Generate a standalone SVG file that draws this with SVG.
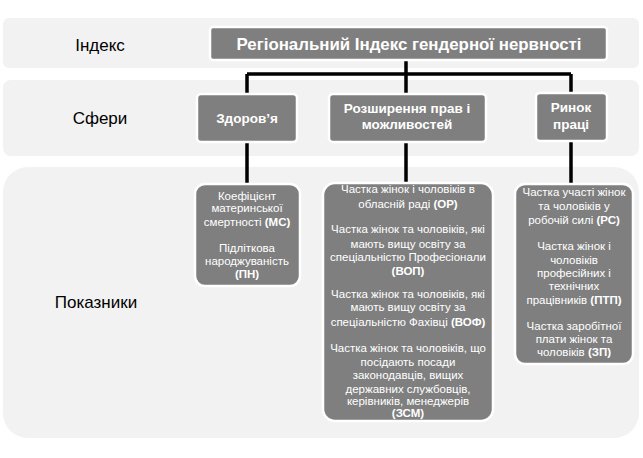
<svg xmlns="http://www.w3.org/2000/svg" width="643" height="458" viewBox="0 0 643 458">
<style>
.band{fill:#f2f2f2}
.lbl{font-family:"Liberation Sans",Arial,sans-serif;font-size:17px;fill:#000;text-anchor:middle}
.box{fill:#7f7f7f;stroke:#fff;stroke-width:2.5}
.ttl{font-family:"Liberation Sans",Arial,sans-serif;font-weight:bold;font-size:16.5px;fill:#fff;text-anchor:middle}
.sph{font-family:"Liberation Sans",Arial,sans-serif;font-weight:bold;font-size:13.5px;fill:#fff;text-anchor:middle}
.ind{font-family:"Liberation Sans",Arial,sans-serif;font-size:11.5px;fill:#fff;text-anchor:middle}
.b{font-weight:bold}
.con{fill:none;stroke:#000;stroke-width:3.5}
</style>
<rect width="643" height="458" fill="#fff"/>
<g id="bands">
<rect class="band" x="3" y="18" width="636" height="50" rx="6"/>
<rect class="band" x="3" y="80" width="636" height="76" rx="8"/>
<rect class="band" x="3" y="167" width="636" height="271" rx="25"/>
<text class="lbl" x="100" y="51">Індекс</text>
<text class="lbl" x="100" y="124">Сфери</text>
<text class="lbl" x="96" y="308">Показники</text>
</g>
<g id="connectors">
<path class="con" d="M406 60 V74 M247 74 H571 M247 74 V184 M406 74 V184 M571 74 V184"/>
</g>
<g id="index">
<rect class="box" x="210" y="27" width="397" height="33" rx="3"/>
<text class="ttl" x="409" y="49.5" textLength="345" lengthAdjust="spacingAndGlyphs">Регіональний Індекс гендерної нервності</text>
</g>
<g id="sphere-health">
<rect class="box" x="197" y="94" width="100" height="48" rx="4"/>
<text class="sph" x="247" y="123">Здоров’я</text>
</g>
<g id="sphere-rights">
<rect class="box" x="329" y="94" width="157" height="48" rx="4"/>
<text class="sph" x="407" y="113">Розширення прав і</text>
<text class="sph" x="407" y="129">можливостей</text>
</g>
<g id="sphere-labour">
<rect class="box" x="536" y="93" width="71" height="48" rx="4"/>
<text class="sph" x="571" y="112">Ринок</text>
<text class="sph" x="571" y="129">праці</text>
</g>
<g id="ind-health">
<rect class="box" x="195" y="184" width="105" height="102" rx="10"/>
<text class="ind" x="247" y="200">Коефіцієнт</text>
<text class="ind" x="247" y="212">материнської</text>
<text class="ind" x="247" y="226">смертності <tspan class="b">(МС)</tspan></text>
<text class="ind" x="247" y="252">Підліткова</text>
<text class="ind" x="247" y="265">народжуваність</text>
<text class="ind" x="247" y="278" font-weight="bold">(ПН)</text>
</g>
<g id="ind-rights">
<rect class="box" x="323" y="183" width="170" height="238" rx="12"/>
<text class="ind" x="408" y="193">Частка жінок і чоловіків в</text>
<text class="ind" x="408" y="208">обласній раді <tspan class="b">(ОР)</tspan></text>
<text class="ind" x="408" y="233">Частка жінок та чоловіків, які</text>
<text class="ind" x="408" y="248">мають вищу освіту за</text>
<text class="ind" x="408" y="261">спеціальністю Професіонали</text>
<text class="ind" x="408" y="275" font-weight="bold">(ВОП)</text>
<text class="ind" x="408" y="298">Частка жінок та чоловіків, які</text>
<text class="ind" x="408" y="311">мають вищу освіту за</text>
<text class="ind" x="408" y="326">спеціальністю Фахівці <tspan class="b">(ВОФ)</tspan></text>
<text class="ind" x="408" y="352">Частка жінок та чоловіків, що</text>
<text class="ind" x="408" y="366">посідають посади</text>
<text class="ind" x="408" y="379">законодавців, вищих</text>
<text class="ind" x="408" y="393">державних службовців,</text>
<text class="ind" x="408" y="405">керівників, менеджерів</text>
<text class="ind" x="408" y="417" font-weight="bold">(ЗСМ)</text>
</g>
<g id="ind-labour">
<rect class="box" x="515" y="184" width="118" height="180" rx="10"/>
<text class="ind" x="574" y="196">Частка участі жінок</text>
<text class="ind" x="574" y="210">та чоловіків у</text>
<text class="ind" x="574" y="224">робочій силі <tspan class="b">(РС)</tspan></text>
<text class="ind" x="574" y="250">Частка жінок і</text>
<text class="ind" x="574" y="264">чоловіків</text>
<text class="ind" x="574" y="277">професійних і</text>
<text class="ind" x="574" y="290">технічних</text>
<text class="ind" x="574" y="304">працівників <tspan class="b">(ПТП)</tspan></text>
<text class="ind" x="574" y="330">Частка заробітної</text>
<text class="ind" x="574" y="343">плати жінок та</text>
<text class="ind" x="574" y="356">чоловіків <tspan class="b">(ЗП)</tspan></text>
</g>
</svg>
